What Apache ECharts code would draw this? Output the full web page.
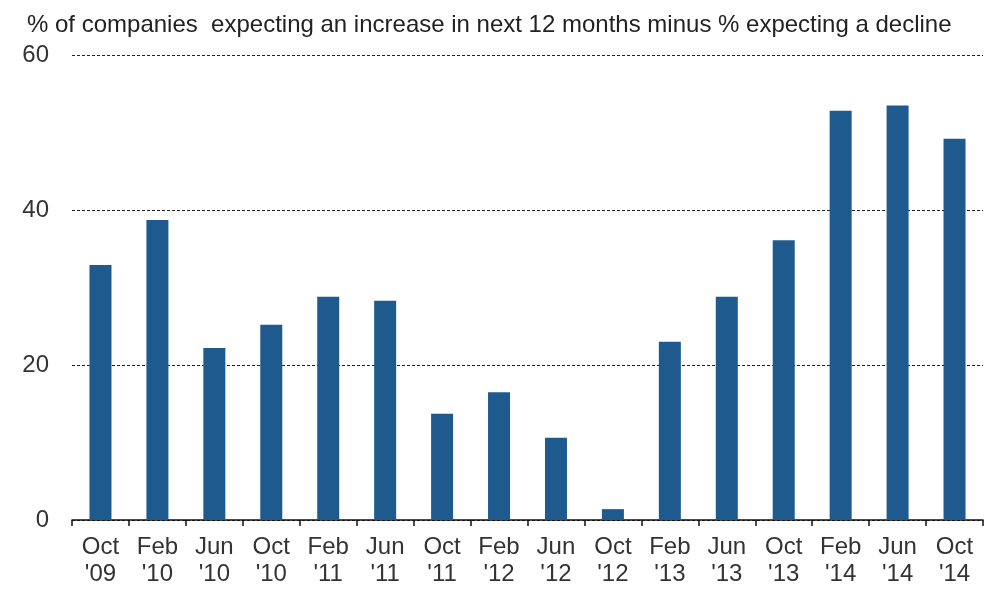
<!DOCTYPE html>
<html>
<head>
<meta charset="utf-8">
<script src="https://cdn.jsdelivr.net/npm/echarts@6/dist/echarts.min.js"></script>
<style>
  html, body { margin: 0; padding: 0; background: #fff; }
  #chart { width: 999px; height: 597px; }
</style>
</head>
<body>
<div id="chart"></div>
<script>
var months = ['Oct', 'Feb', 'Jun', 'Oct', 'Feb', 'Jun', 'Oct', 'Feb', 'Jun', 'Oct', 'Feb', 'Jun', 'Oct', 'Feb', 'Jun', 'Oct']
var years = ["'09", "'10", "'10", "'10", "'11", "'11", "'11", "'12", "'12", "'12", "'13", "'13", "'13", "'14", "'14", "'14"]
var balance = [32.9, 38.7, 22.2, 25.2, 28.8, 28.3, 13.7, 16.5, 10.6, 1.4, 23.0, 28.8, 36.1, 52.8, 53.5, 49.2]

var categories = months.map(function (m, i) { return m + '\n' + years[i] })
var font = 'Liberation Sans, Arial, sans-serif'

var chart = echarts.init(document.getElementById('chart'))
chart.setOption({
  animation: false,
  title: {
    text: '% of companies  expecting an increase in next 12 months minus % expecting a decline',
    left: 22,
    top: 8,
    textStyle: {
      color: '#222',
      fontFamily: font,
      fontSize: 24,
      fontWeight: 'normal'
    }
  },
  grid: {
    left: 72,
    right: 16,
    top: 55,
    bottom: 77
  },
  xAxis: {
    type: 'category',
    data: categories,
    boundaryGap: true,
    axisLine: { lineStyle: { color: '#111', width: 1.5 } },
    axisTick: { show: true, length: 6, inside: false, lineStyle: { color: '#111', width: 1.5 } },
    axisLabel: {
      color: '#333',
      fontFamily: font,
      fontSize: 24,
      lineHeight: 27,
      margin: 14,
      interval: 0
    }
  },
  yAxis: {
    type: 'value',
    min: 0,
    max: 60,
    interval: 20,
    axisLine: { show: false },
    axisTick: { show: false },
    axisLabel: {
      color: '#333',
      fontFamily: font,
      fontSize: 24,
      margin: 23
    },
    splitLine: {
      lineStyle: { color: '#222', type: [3, 2], width: 1 }
    }
  },
  series: [{
    type: 'bar',
    data: balance,
    barWidth: 22,
    itemStyle: { color: '#1e5a8d' }
  }]
})
</script>
</body>
</html>
